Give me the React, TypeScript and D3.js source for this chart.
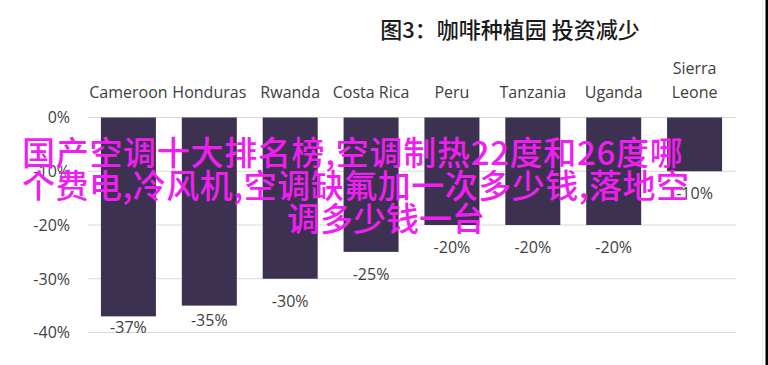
import React from "react";
import * as d3 from "d3";

const categories: string[][] = [
  ["Cameroon"],
  ["Honduras"],
  ["Rwanda"],
  ["Costa Rica"],
  ["Peru"],
  ["Tanzania"],
  ["Uganda"],
  ["Sierra", "Leone"],
];
const values: number[] = [-37, -35, -30, -25, -20, -20, -20, -10];
const yTicks: number[] = [0, -10, -20, -30, -40];
const title = "图3：咖啡种植园 投资减少";
const overlayLines: string[] = [
  "国产空调十大排名榜,空调制热22度和26度哪",
  "个费电,冷风机,空调缺氟加一次多少钱,落地空",
  "调多少钱一台",
];

const W = 768;
const H = 365;
const FONT = "'Open Sans', 'Liberation Sans', sans-serif";
const CJK = "'Noto Sans CJK SC', sans-serif";

export default function App() {
  const x = d3
    .scaleBand<number>()
    .domain(d3.range(values.length))
    .range([88, 735])
    .paddingInner(0.32)
    .paddingOuter(0.16);
  const y = d3.scaleLinear().domain([0, -40]).range([117.5, 332.5]);
  const fmt = (v: number) => `${v}%`;
  const lineX = [22, 22, 287];
  const lineSpacing = [0.7, 0.5, 0];

  return (
    <div style={{ position: "absolute", left: 0, top: 0, width: W, height: H, background: "#fff" }}>
      <svg width={W} height={H} style={{ display: "block" }}>
        <rect x={0} y={0} width={W} height={H} fill="#fff" />
        <text
          x={510}
          y={38}
          textAnchor="middle"
          fontFamily={CJK}
          fontWeight={500}
          fontSize={22}
          fill="#1a1a1a"
        >
          {title}
        </text>
        {/* gridlines */}
        {yTicks.map((t) => (
          <line key={t} x1={88} x2={736} y1={y(t)} y2={y(t)} stroke="#d9d9d9" strokeWidth={1} />
        ))}
        {/* y tick labels */}
        {yTicks.map((t) => (
          <text
            key={"l" + t}
            x={70}
            y={y(t)}
            dy="0.36em"
            textAnchor="end"
            fontFamily={FONT}
            fontSize={16}
            fill="#404040"
          >
            {fmt(t)}
          </text>
        ))}
        {/* category labels */}
        {categories.map((c, i) => {
          const cx = (x(i) as number) + x.bandwidth() / 2;
          return (
            <text key={"c" + i} textAnchor="middle" fontFamily={FONT} fontSize={16} fill="#404040">
              {c.map((line, j) => (
                <tspan key={j} x={cx} y={98 - (c.length - 1 - j) * 24}>
                  {line}
                </tspan>
              ))}
            </text>
          );
        })}
        {/* bars */}
        {values.map((v, i) => (
          <rect
            key={"b" + i}
            x={x(i)}
            y={y(0)}
            width={x.bandwidth()}
            height={y(v) - y(0)}
            fill="#3c3150"
          />
        ))}
        {/* value labels */}
        {values.map((v, i) => {
          const yEnd = y(v);
          const off = 22 - Math.max(0, yEnd - 282) * 0.33;
          return (
            <text
              key={"v" + i}
              x={(x(i) as number) + x.bandwidth() / 2}
              y={yEnd + off}
              dy="0.36em"
              textAnchor="middle"
              fontFamily={FONT}
              fontSize={16}
              fill="#404040"
            >
              {fmt(v)}
            </text>
          );
        })}
        {/* overlay text */}
        {overlayLines.map((line, i) => (
          <text
            key={"o" + i}
            x={lineX[i]}
            y={165 + i * 33}
            fontFamily={CJK}
            fontWeight={500}
            fontSize={33}
            letterSpacing={lineSpacing[i]}
            fill="#f01ef0"
          >
            {line}
          </text>
        ))}
        {/* right border */}
        <line x1={762.5} x2={762.5} y1={0} y2={H} stroke="#e6e6e6" strokeWidth={1} />
        <rect x={765.5} y={0} width={2.5} height={H} fill="#000" />
      </svg>
    </div>
  );
}
